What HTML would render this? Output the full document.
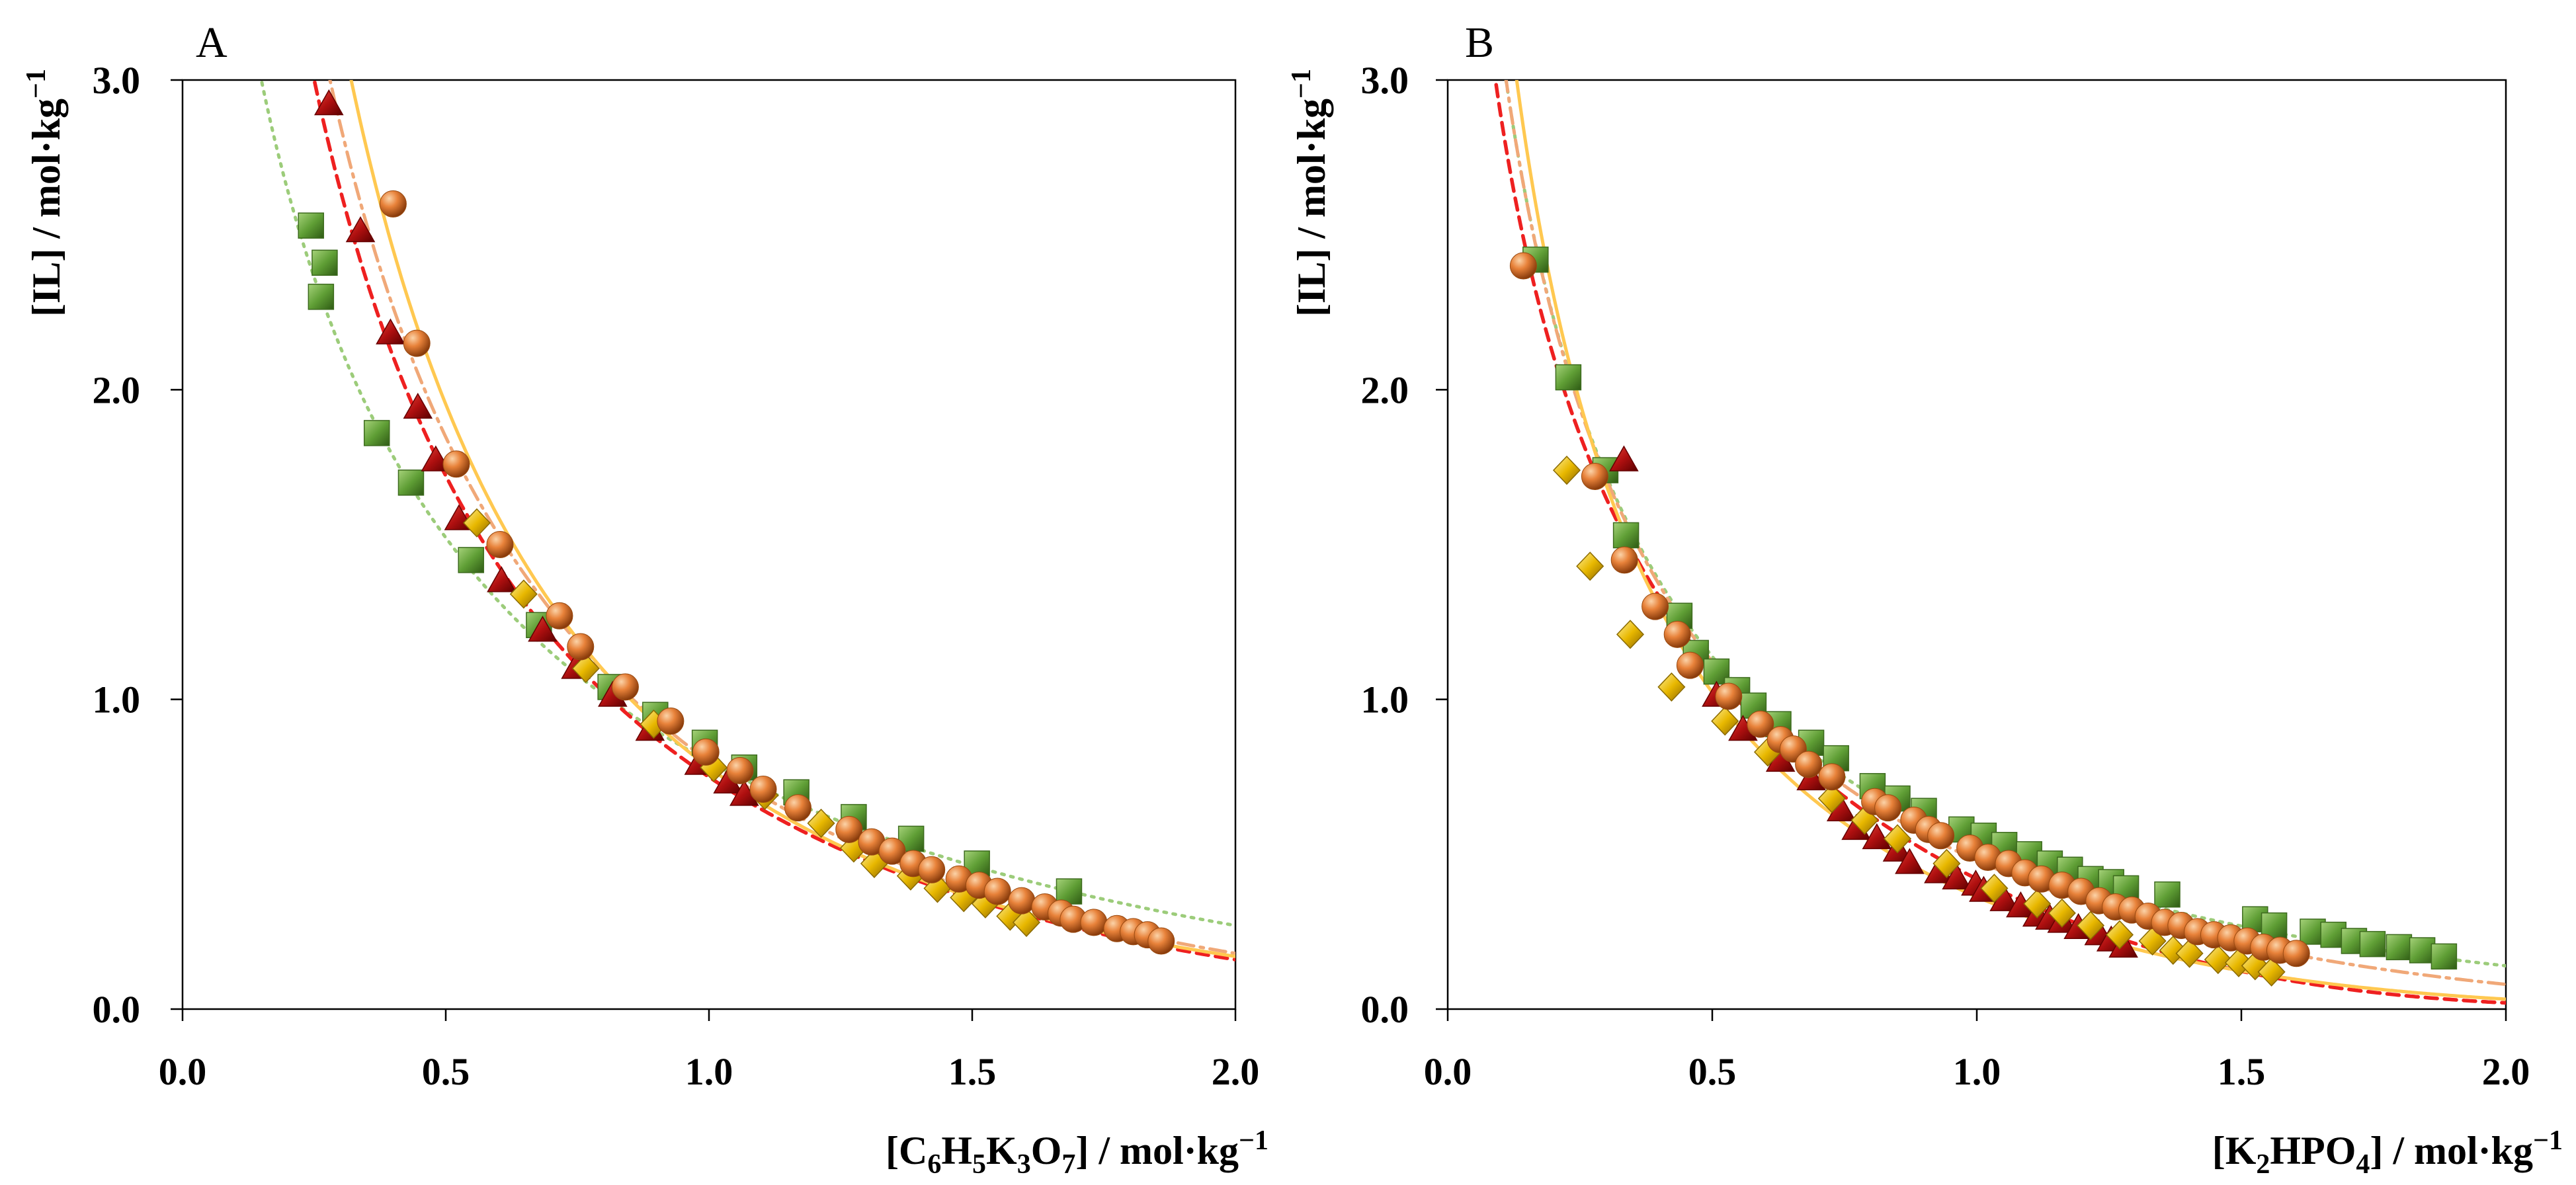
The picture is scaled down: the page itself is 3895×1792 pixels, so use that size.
<!DOCTYPE html>
<html><head><meta charset="utf-8"><style>
html,body{margin:0;padding:0;background:#fff}
svg{display:block}
text{font-family:"Liberation Serif",serif}
</style></head><body>
<svg id="chart" width="3895" height="1792" viewBox="0 0 3895 1792" xmlns="http://www.w3.org/2000/svg">
<defs>
<radialGradient id="gOr" cx="35%" cy="30%" r="70%"><stop offset="0" stop-color="#fbd3a8"/><stop offset="0.45" stop-color="#e8823a"/><stop offset="1" stop-color="#8a3c0c"/></radialGradient>
<linearGradient id="gGr" x1="0" y1="0" x2="1" y2="1"><stop offset="0" stop-color="#a6d27a"/><stop offset="0.5" stop-color="#5f9e35"/><stop offset="1" stop-color="#2e5a14"/></linearGradient>
<linearGradient id="gRd" x1="0" y1="0" x2="1" y2="1"><stop offset="0" stop-color="#e0453a"/><stop offset="0.5" stop-color="#b01010"/><stop offset="1" stop-color="#5a0000"/></linearGradient>
<linearGradient id="gYl" x1="0" y1="0" x2="1" y2="1"><stop offset="0" stop-color="#fff0a0"/><stop offset="0.5" stop-color="#e8b800"/><stop offset="1" stop-color="#8a6400"/></linearGradient>
</defs>
</svg>
<script>
// ---------- data ----------
const xTicks = [0, 0.5, 1.0, 1.5, 2.0];
const yTicks = [0, 1.0, 2.0, 3.0];
const tickLabelsX = ["0.0","0.5","1.0","1.5","2.0"];
const tickLabelsY = ["0.0","1.0","2.0","3.0"];

// Panel A
const aGreenX = [.244,.27,.263,.369,.434,.548,.677,.813,.898,.992,1.067,1.166,1.275,1.384,1.509,1.684];
const aGreenY = [2.53,2.41,2.30,1.86,1.70,1.45,1.24,1.04,.95,.86,.78,.70,.62,.55,.47,.38];
const aRedX = [.278,.338,.395,.447,.481,.525,.606,.684,.747,.817,.888,.981,1.036,1.067];
const aRedY = [2.92,2.51,2.18,1.94,1.77,1.58,1.38,1.22,1.10,1.01,.90,.79,.73,.69];
const aYelX = [.559,.648,.766,.895,1.009,1.106,1.213,1.275,1.314,1.383,1.434,1.484,1.525,1.572,1.603];
const aYelY = [1.57,1.34,1.10,.92,.78,.69,.60,.52,.47,.43,.39,.36,.34,.30,.28];
const aOrX = [.4,.445,.52,.603,.716,.756,.841,.927,.994,1.059,1.103,1.169,1.266,1.309,1.348,1.388,1.423,1.475,1.513,1.548,1.594,1.638,1.669,1.692,1.731,1.775,1.806,1.833,1.859];
const aOrY = [2.60,2.15,1.76,1.50,1.27,1.17,1.04,.93,.83,.77,.71,.65,.58,.54,.51,.47,.45,.42,.40,.38,.35,.33,.31,.29,.28,.26,.25,.24,.22];
// Merchuk fit params [lnA, B, C]
const aGreenFit = [1.914,-2.107,0.0305];
const aRedFit = [2.424,-2.648,0.0642];
const aYelFit = [2.807,-3.016,0.0393];
const aOrFit = [2.526,-2.695,0.0537];

// Panel B
const bGreenX = [.166,.228,.298,.337,.438,.469,.508,.547,.578,.625,.687,.734,.803,.85,.9,.971,1.013,1.052,1.099,1.138,1.176,1.215,1.254,1.282,1.36,1.526,1.562,1.635,1.674,1.713,1.748,1.798,1.842,1.883];
const bGreenY = [2.42,2.04,1.74,1.53,1.27,1.15,1.09,1.03,.98,.92,.86,.81,.72,.68,.64,.58,.56,.53,.50,.47,.45,.42,.41,.39,.37,.29,.27,.25,.24,.22,.21,.20,.19,.17];
const bRedX = [.333,.508,.558,.629,.687,.744,.772,.811,.85,.873,.928,.962,.998,1.013,1.052,1.083,1.114,1.138,1.161,1.192,1.231,1.254,1.277];
const bRedY = [1.77,1.01,.90,.80,.74,.64,.58,.55,.51,.47,.44,.42,.40,.38,.35,.33,.30,.29,.28,.26,.24,.22,.20];
const bYelX = [.225,.269,.345,.423,.524,.605,.726,.788,.85,.943,1.033,1.114,1.161,1.215,1.27,1.332,1.371,1.402,1.456,1.495,1.526,1.557];
const bYelY = [1.74,1.43,1.21,1.04,.93,.83,.68,.61,.55,.47,.39,.34,.31,.27,.24,.22,.19,.18,.16,.15,.14,.12];
const bOrX = [.143,.278,.334,.392,.434,.458,.531,.591,.629,.653,.682,.726,.807,.832,.881,.909,.932,.987,1.021,1.06,1.091,1.122,1.161,1.197,1.231,1.262,1.293,1.324,1.355,1.386,1.417,1.448,1.48,1.511,1.542,1.573,1.604];
const bOrY = [2.40,1.72,1.45,1.30,1.21,1.11,1.01,.92,.87,.84,.79,.75,.67,.65,.61,.58,.56,.52,.49,.47,.44,.42,.40,.38,.35,.33,.32,.30,.28,.27,.25,.24,.23,.22,.20,.19,.18];
const bGreenFit = [1.952,-2.571,0.0354];
const bRedFit = [1.817,-2.391,0.2935];
const bYelFit = [2.20,-3.05,0.165];
const bOrFit = [1.959,-2.590,0.1028];

// ---------- drawing ----------
const svg = document.getElementById('chart');
const NS = 'http://www.w3.org/2000/svg';
function mk(tag, attrs, parent){const e=document.createElementNS(NS,tag);for(const k in attrs)e.setAttribute(k,attrs[k]);(parent||svg).appendChild(e);return e;}

function panel(cfg){
  const g = mk('g',{});
  
  
  const X0=cfg.x0, X1=cfg.x1, Y0=1526, Y1=121;
  const sx=v=>X0+(v/2)*(X1-X0), sy=v=>Y0-(v/3)*(Y0-Y1);
  const fr = mk('rect',{x:X0,y:Y1,width:X1-X0,height:Y0-Y1,fill:'none',stroke:'#000','stroke-width':2.5},g);
  
  
  xTicks.forEach((t,i)=>{
    mk('line',{x1:sx(t),x2:sx(t),y1:Y0,y2:Y0+18,stroke:'#000','stroke-width':2.5},g);
    const tx = mk('text',{x:sx(t),y:1640,'font-size':58,'font-weight':'bold','text-anchor':'middle'},g);
    tx.textContent = tickLabelsX[i];
    
    
  });
  yTicks.forEach((t,i)=>{
    mk('line',{x1:X0-18,x2:X0,y1:sy(t),y2:sy(t),stroke:'#000','stroke-width':2.5},g);
    const ty = mk('text',{x:cfg.ylabX,y:sy(t)+20,'font-size':58,'font-weight':'bold','text-anchor':'end'},g);
    ty.textContent = tickLabelsY[i];
    
    
  });
  const cp = mk('clipPath',{id:'clip'+cfg.id},g);
  mk('rect',{x:X0,y:Y1,width:X1-X0,height:Y0-Y1},cp);
  const fits=[[cfg.gFit,'#9ccc7a','4 10',5],[cfg.oFit,'#f0a878','24 10 5 10',5],[cfg.rFit,'#ee2020','18 11',5.5],[cfg.yFit,'#ffc850','',5]];
  fits.forEach(f=>{
    const p=f[0]; let d='';
    for(let i=0;i<=400;i++){const x=0.05+i*(1.95/400);const y=Math.exp(p[0]+p[1]*Math.sqrt(x)-p[2]*x*x*x);d+=(i?'L':'M')+sx(x).toFixed(1)+','+Math.max(sy(Math.min(y,3.5)),0).toFixed(1);}
    const pl=mk('path',{d:d,fill:'none',stroke:f[1],'stroke-width':f[3],'stroke-dasharray':f[2],'stroke-linecap':'round','clip-path':'url(#clip'+cfg.id+')'},g);
    
    
  });
  cfg.gX.forEach((x,i)=>{const cx=sx(x),cy=sy(cfg.gY[i]);
    const m=mk('rect',{x:cx-19,y:cy-19,width:38,height:38,fill:'url(#gGr)',stroke:'#3d6b1e','stroke-width':1.5},g);
    
    });
  cfg.rX.forEach((x,i)=>{const cx=sx(x),cy=sy(cfg.rY[i]);
    const m=mk('polygon',{points:`${cx},${cy-22} ${cx+21},${cy+15} ${cx-21},${cy+15}`,fill:'url(#gRd)',stroke:'#600','stroke-width':1.5},g);
    
    });
  cfg.yX.forEach((x,i)=>{const cx=sx(x),cy=sy(cfg.yY[i]);
    const m=mk('polygon',{points:`${cx},${cy-21} ${cx+20},${cy} ${cx},${cy+21} ${cx-20},${cy}`,fill:'url(#gYl)',stroke:'#8a6a00','stroke-width':1.5},g);
    
    });
  cfg.oX.forEach((x,i)=>{const cx=sx(x),cy=sy(cfg.oY[i]);
    const m=mk('circle',{cx:cx,cy:cy,r:20,fill:'url(#gOr)',stroke:'#9a4a10','stroke-width':1},g);
    
    });
  const pl = mk('text',{x:cfg.letterX,y:86,'font-size':66},g);
  pl.textContent = cfg.letter;
  
  
  const yt = mk('text',{x:0,y:0,'font-size':60,'font-weight':'bold','text-anchor':'end',transform:`translate(${cfg.yTitleX},104) rotate(-90)`},g);
  yt.innerHTML = '[IL] / mol·kg<tspan dy="-22" font-size="42">−1</tspan>';
  
  
  const xt = mk('text',{x:cfg.xTitleX,y:1760,'font-size':60,'font-weight':'bold','text-anchor':'end'},g);
  xt.innerHTML = cfg.xTitle;
  
  
}

panel({id:'A',name:'panel-a',letter:'A',x0:276,x1:1868,ylabX:212,letterX:296,yTitleX:90,xTitleX:1918,
  xTitle:'[C<tspan dy="14" font-size="42">6</tspan><tspan dy="-14">H</tspan><tspan dy="14" font-size="42">5</tspan><tspan dy="-14">K</tspan><tspan dy="14" font-size="42">3</tspan><tspan dy="-14">O</tspan><tspan dy="14" font-size="42">7</tspan><tspan dy="-14">] / mol·kg</tspan><tspan dy="-22" font-size="42">−1</tspan>',
  gX:aGreenX,gY:aGreenY,rX:aRedX,rY:aRedY,yX:aYelX,yY:aYelY,oX:aOrX,oY:aOrY,
  gFit:aGreenFit,rFit:aRedFit,yFit:aYelFit,oFit:aOrFit});
panel({id:'B',name:'panel-b',letter:'B',x0:2189,x1:3789,ylabX:2130,letterX:2215,yTitleX:2003,xTitleX:3875,
  xTitle:'[K<tspan dy="14" font-size="42">2</tspan><tspan dy="-14">HPO</tspan><tspan dy="14" font-size="42">4</tspan><tspan dy="-14">] / mol·kg</tspan><tspan dy="-22" font-size="42">−1</tspan>',
  gX:bGreenX,gY:bGreenY,rX:bRedX,rY:bRedY,yX:bYelX,yY:bYelY,oX:bOrX,oY:bOrY,
  gFit:bGreenFit,rFit:bRedFit,yFit:bYelFit,oFit:bOrFit});
</script>
</body></html>
